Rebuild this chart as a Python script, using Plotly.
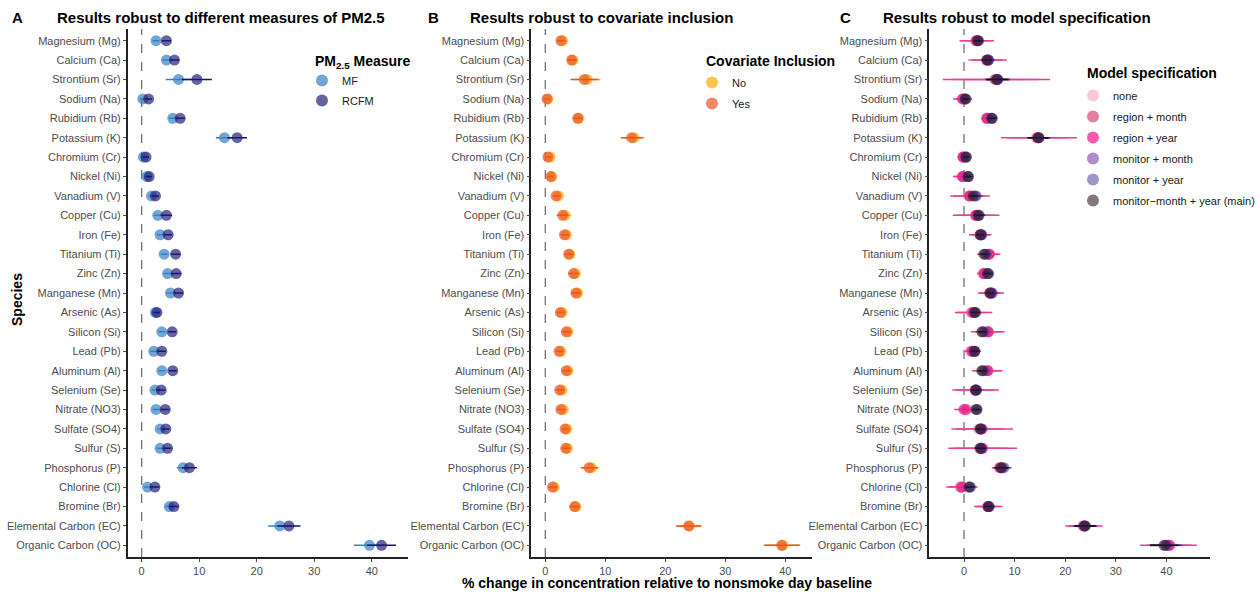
import plotly.graph_objects as go

species = ["Magnesium (Mg)", "Calcium (Ca)", "Strontium (Sr)", "Sodium (Na)", "Rubidium (Rb)",
           "Potassium (K)", "Chromium (Cr)", "Nickel (Ni)", "Vanadium (V)", "Copper (Cu)",
           "Iron (Fe)", "Titanium (Ti)", "Zinc (Zn)", "Manganese (Mn)", "Arsenic (As)",
           "Silicon (Si)", "Lead (Pb)", "Aluminum (Al)", "Selenium (Se)", "Nitrate (NO3)",
           "Sulfate (SO4)", "Sulfur (S)", "Phosphorus (P)", "Chlorine (Cl)", "Bromine (Br)",
           "Elemental Carbon (EC)", "Organic Carbon (OC)"]

# Panel A: PM2.5 measure
mf_est = [2.5, 4.3, 6.4, 0.2, 5.4, 14.4, 0.3, 0.9, 1.7, 2.8, 3.2, 3.9, 4.5, 5.0, 2.4, 3.5, 2.1, 3.5, 2.3, 2.5, 3.2, 3.2, 7.2, 1.0, 4.8, 24.0, 39.6]
mf_hw = [0.6, 0.7, 2.2, 0.5, 0.7, 1.5, 0.4, 0.4, 0.5, 0.7, 0.6, 0.6, 0.7, 0.7, 0.5, 0.6, 0.6, 0.6, 0.6, 0.6, 0.5, 0.6, 1.1, 0.6, 0.7, 2.0, 2.7]
rcfm_est = [4.3, 5.7, 9.6, 1.2, 6.7, 16.6, 0.75, 1.3, 2.4, 4.3, 4.6, 5.9, 6.0, 6.4, 2.65, 5.3, 3.5, 5.4, 3.4, 4.1, 4.2, 4.5, 8.3, 2.3, 5.6, 25.6, 41.7]
rcfm_hw = [0.8, 0.8, 2.6, 0.6, 0.8, 1.7, 0.5, 0.5, 0.6, 1.0, 0.7, 0.8, 0.9, 0.8, 0.5, 0.7, 0.7, 0.7, 0.7, 0.7, 0.6, 0.7, 1.3, 0.8, 0.8, 2.0, 2.5]

# Panel B: covariate inclusion
no_est = [2.9, 4.6, 7.0, 0.4, 5.6, 14.8, 0.8, 1.1, 2.2, 3.3, 3.5, 4.1, 5.0, 5.4, 2.8, 3.8, 2.6, 3.8, 2.8, 3.0, 3.6, 3.7, 7.7, 1.5, 5.1, 24.0, 39.6]
no_hw = [0.7, 0.7, 2.2, 0.5, 0.7, 1.7, 0.5, 0.5, 0.6, 1.0, 0.7, 0.7, 0.9, 0.8, 0.6, 0.7, 0.6, 0.7, 0.7, 0.7, 0.6, 0.7, 1.3, 0.7, 0.8, 2.0, 2.9]
yes_est = [2.6, 4.4, 6.5, 0.3, 5.4, 14.4, 0.45, 0.9, 1.8, 2.9, 3.2, 3.9, 4.7, 5.1, 2.5, 3.5, 2.3, 3.5, 2.4, 2.6, 3.3, 3.4, 7.3, 1.2, 4.9, 23.9, 39.4]
yes_hw = [0.7, 0.7, 2.3, 0.5, 0.7, 1.8, 0.5, 0.5, 0.6, 1.0, 0.7, 0.7, 0.9, 0.8, 0.6, 0.7, 0.6, 0.7, 0.7, 0.7, 0.6, 0.7, 1.4, 0.7, 0.8, 2.1, 3.0]

# Panel C: model specification
none_est = [2.3, 4.4, 6.0, -0.1, 4.4, 14.2, -0.1, -0.4, 0.9, 2.2, 3.5, 5.1, 3.7, 5.0, 1.3, 4.9, 1.2, 4.8, 2.1, 0.6, 2.8, 2.9, 6.9, -0.8, 4.6, 23.5, 40.8]
none_hw = [2.0, 2.2, 6.0, 1.2, 0.9, 4.5, 0.7, 1.2, 2.4, 2.8, 1.4, 1.5, 1.0, 1.7, 2.3, 2.1, 1.1, 2.0, 2.9, 1.2, 3.6, 4.0, 1.3, 1.9, 1.8, 2.5, 3.6]
regmon_est = [2.4, 4.6, 6.2, -0.2, 4.5, 14.5, -0.2, -0.3, 1.0, 2.3, 3.3, 5.0, 3.9, 5.2, 1.6, 4.8, 1.5, 4.7, 2.2, 0.4, 3.2, 3.4, 7.1, -0.6, 4.7, 23.6, 40.6]
regmon_hw = [2.8, 3.0, 8.5, 1.5, 1.0, 6.0, 0.8, 1.6, 3.1, 3.8, 1.8, 1.9, 1.2, 2.1, 3.0, 2.7, 1.3, 2.5, 3.8, 1.5, 4.8, 5.4, 1.5, 2.4, 2.3, 3.0, 4.5]
regyr_est = [2.5, 4.7, 6.4, -0.3, 4.6, 14.8, -0.2, -0.2, 1.2, 2.4, 3.2, 4.9, 4.0, 5.3, 1.9, 4.7, 1.7, 4.6, 2.3, 0.0, 3.6, 3.7, 7.3, -0.4, 4.8, 23.7, 40.4]
regyr_hw = [3.4, 3.8, 10.6, 1.9, 1.1, 7.5, 0.9, 2.0, 3.9, 4.6, 2.2, 2.3, 1.4, 2.6, 3.7, 3.3, 1.6, 3.0, 4.6, 1.9, 6.1, 6.8, 1.8, 3.1, 2.8, 3.7, 5.6]
monmon_est = [2.8, 4.9, 6.6, 0.2, 5.4, 14.7, 0.3, 0.7, 2.4, 2.9, 3.5, 4.4, 4.6, 5.6, 2.0, 4.0, 2.0, 4.0, 2.4, 2.3, 3.3, 3.3, 7.9, 0.9, 4.9, 23.8, 40.0]
monmon_hw = [1.0, 1.2, 2.5, 0.8, 1.0, 2.4, 0.7, 0.8, 1.2, 1.3, 1.0, 1.0, 1.0, 1.1, 1.0, 1.0, 0.9, 1.0, 1.2, 0.8, 1.2, 1.3, 1.5, 1.0, 1.1, 2.4, 3.2]
monyr_est = [2.9, 4.8, 6.7, 0.4, 5.6, 14.8, 0.5, 0.9, 2.2, 3.0, 3.4, 4.2, 4.9, 5.4, 2.3, 3.7, 2.2, 3.7, 2.5, 2.6, 3.4, 3.4, 7.6, 1.3, 5.0, 24.0, 39.8]
monyr_hw = [0.9, 1.1, 2.3, 0.7, 0.9, 2.2, 0.6, 0.7, 1.0, 1.1, 0.9, 0.9, 0.9, 1.0, 0.9, 0.9, 0.8, 0.9, 1.0, 0.7, 1.0, 1.1, 1.4, 0.9, 1.0, 2.2, 3.0]
main_est = [2.7, 4.5, 6.5, 0.3, 5.5, 14.6, 0.4, 0.8, 1.8, 2.8, 3.2, 3.9, 4.7, 5.1, 2.2, 3.5, 2.1, 3.5, 2.3, 2.5, 3.2, 3.2, 7.3, 1.1, 4.8, 23.9, 39.5]
main_hw = [0.8, 1.0, 2.1, 0.6, 0.8, 2.0, 0.5, 0.6, 0.9, 1.0, 0.8, 0.8, 0.8, 0.9, 0.8, 0.8, 0.7, 0.8, 0.9, 0.6, 0.9, 1.0, 1.3, 0.8, 0.9, 2.1, 2.8]

x_ticks = [0, 10, 20, 30, 40]

W, H = 1260, 595
FONT = "Liberation Sans, Arial, sans-serif"

fig = go.Figure()


def add_series(x, hw, name, mcol, ecol, ax, leg, thick=1.5):
    fig.add_trace(go.Scatter(
        x=x, y=species, mode="markers", name=name,
        marker=dict(size=11, color=mcol, line=dict(width=0)),
        error_x=dict(type="data", array=hw, symmetric=True, width=0,
                     thickness=thick, color=ecol),
        xaxis="x" + ("" if ax == 1 else str(ax)),
        yaxis="y" + ("" if ax == 1 else str(ax)),
        legend=leg, legendgroup=name,
        hoverinfo="x+y+name",
    ))


# Panel A
add_series(mf_est, mf_hw, "MF", "rgba(54,129,195,0.7)", "rgb(54,129,195)", 1, "legend")
add_series(rcfm_est, rcfm_hw, "RCFM", "rgba(30,26,115,0.68)", "rgb(22,19,111)", 1, "legend")
# Panel B
add_series(no_est, no_hw, "No", "rgba(252,171,0,0.7)", "rgb(252,171,0)", 2, "legend2")
add_series(yes_est, yes_hw, "Yes", "rgba(233,85,39,0.7)", "rgb(233,85,39)", 2, "legend2")
# Panel C
add_series(none_est, none_hw, "none", "rgba(248,176,191,0.7)", "rgb(248,176,191)", 3, "legend3")
add_series(regmon_est, regmon_hw, "region + month", "rgba(212,76,119,0.7)", "rgb(220,100,140)", 3, "legend3")
add_series(regyr_est, regyr_hw, "region + year", "rgba(240,22,140,0.7)", "rgb(236,60,150)", 3, "legend3")
add_series(monmon_est, monmon_hw, "monitor + month", "rgba(105,48,162,0.55)", "rgb(120,70,170)", 3, "legend3")
add_series(monyr_est, monyr_hw, "monitor + year", "rgba(34,27,134,0.45)", "rgb(50,40,140)", 3, "legend3")
add_series(main_est, main_hw, "monitor\u2212month + year (main)", "rgba(48,32,38,0.6)", "rgb(10,10,10)", 3, "legend3")

ydom = [1 - 557 / H, 1 - 29 / H]
panels = [
    (127.7, 408.0, [-2.43, 46.3]),
    (531.3, 812.3, [-2.33, 44.5]),
    (929.3, 1210.0, [-6.86, 48.6]),
]

layout = dict(
    width=W, height=H,
    margin=dict(l=0, r=0, t=0, b=0, autoexpand=False),
    paper_bgcolor="white", plot_bgcolor="white",
    font=dict(family=FONT, size=11, color="#4d4d4d"),
    showlegend=True,
)

for i, (x0, x1, xr) in enumerate(panels, start=1):
    sfx = "" if i == 1 else str(i)
    layout["xaxis" + sfx] = dict(
        domain=[x0 / W, x1 / W], range=xr, anchor="y" + sfx, automargin=False,
        tickvals=x_ticks, ticks="outside", ticklen=3, tickcolor="#4d4d4d",
        tickfont=dict(size=11, color="#4d4d4d", family=FONT),
        showline=True, linecolor="#222222", linewidth=1.6,
        showgrid=False, zeroline=False, fixedrange=True,
    )
    layout["yaxis" + sfx] = dict(
        domain=ydom, anchor="x" + sfx, type="category", automargin=False,
        categoryorder="array", categoryarray=species,
        range=[26.6, -0.6], ticks="outside", ticklen=3, tickcolor="#4d4d4d",
        tickfont=dict(size=11, color="#4d4d4d", family=FONT),
        showline=True, linecolor="#222222", linewidth=1.6,
        showgrid=False, zeroline=False, fixedrange=True,
    )

leg_common = dict(
    bgcolor="rgba(0,0,0,0)", xanchor="left", yanchor="top",
    font=dict(size=11, color="#1a1a1a", family=FONT),
    itemsizing="constant",
)
# legend item text starts ~40px right of the legend's x
layout["legend"] = dict(leg_common, x=302 / W, y=1 - 66 / H, tracegroupgap=1)
layout["legend2"] = dict(leg_common, x=692 / W, y=1 - 68 / H, tracegroupgap=2)
layout["legend3"] = dict(leg_common, x=1073 / W, y=1 - 81 / H, tracegroupgap=2)

shapes = []
for i in range(1, 4):
    sfx = "" if i == 1 else str(i)
    shapes.append(dict(type="line", xref="x" + sfx, yref="y" + sfx + " domain",
                       x0=0, x1=0, y0=0, y1=1, layer="below",
                       line=dict(color="#666666", width=1.2, dash="dash")))
layout["shapes"] = shapes

annotations = []
title_specs = [
    ("A", 17, "Results robust to different measures of PM2.5", 55),
    ("B", 433, "Results robust to covariate inclusion", 468),
    ("C", 846, "Results robust to model specification", 881),
]
for letter, lx, text, tx in title_specs:
    annotations.append(dict(text="<b>%s</b>" % letter, x=lx / W, y=1 - 17 / H,
                            xref="paper", yref="paper", xanchor="center", yanchor="middle",
                            showarrow=False, font=dict(size=15, color="black", family=FONT)))
    annotations.append(dict(text="<b>%s</b>" % text, x=tx / W, y=1 - 17 / H,
                            xref="paper", yref="paper", xanchor="left", yanchor="middle",
                            showarrow=False, font=dict(size=15, color="black", family=FONT)))

legend_titles = [
    ("<b>PM<sub>2.5</sub> Measure</b>", 313, 62),
    ("<b>Covariate Inclusion</b>", 704, 61),
    ("<b>Model specification</b>", 1085, 73),
]
for txt, lx, ly in legend_titles:
    annotations.append(dict(text=txt, x=lx / W, y=1 - ly / H,
                            xref="paper", yref="paper", xanchor="left", yanchor="middle",
                            showarrow=False, font=dict(size=14, color="black", family=FONT)))

annotations.append(dict(text="<b>Species</b>", x=17 / W, y=1 - 300 / H, textangle=-90,
                        xref="paper", yref="paper", xanchor="center", yanchor="middle",
                        showarrow=False, font=dict(size=14, color="black", family=FONT)))
annotations.append(dict(text="<b>% change in concentration relative to nonsmoke day baseline</b>",
                        x=667 / W, y=1 - 583 / H,
                        xref="paper", yref="paper", xanchor="center", yanchor="middle",
                        showarrow=False, font=dict(size=14, color="black", family=FONT)))
layout["annotations"] = annotations

fig.update_layout(**layout)
fig.write_html("out.html")
